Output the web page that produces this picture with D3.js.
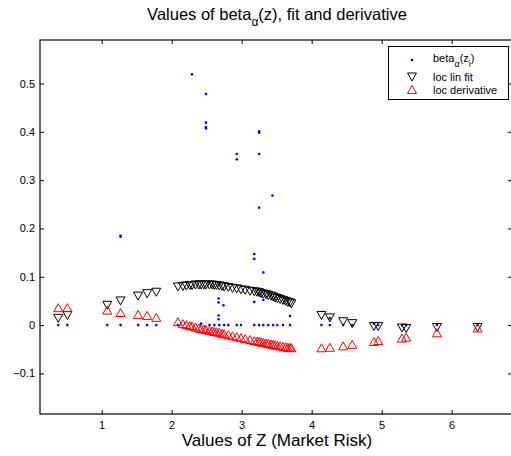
<!DOCTYPE html>
<html>
<head>
<meta charset="utf-8">
<script src="https://cdn.jsdelivr.net/npm/d3@7"></script>
<style>
	body { margin: 0; background: #fff; }
	text { font-family: "Liberation Sans", Arial, Helvetica, sans-serif; fill: #000; }
</style>
</head>
<body>
<div id="chart"></div>
<script>
// local fit / derivative are evaluated at each observed z
const fitZ = [
	0.38, 0.51, 1.08, 1.27, 1.52, 1.65, 1.78,
	2.09, 2.16, 2.21, 2.26, 2.29, 2.34, 2.39, 2.42, 2.46, 2.49,
	2.54, 2.58, 2.61, 2.64, 2.68, 2.72, 2.75, 2.81, 2.87, 2.93,
	2.99, 3.05, 3.12, 3.18, 3.22, 3.25, 3.28, 3.31, 3.35, 3.38,
	3.42, 3.45, 3.48, 3.51, 3.55, 3.59, 3.63, 3.66, 3.69, 3.71,
	4.14, 4.26, 4.45, 4.58, 4.89, 4.95, 5.29, 5.35, 5.79, 6.37
];
const fitValues = [
	0.015, 0.021, 0.042, 0.051, 0.061, 0.066, 0.069,
	0.080, 0.081, 0.082, 0.083, 0.083, 0.084, 0.084, 0.084, 0.084, 0.084,
	0.084, 0.084, 0.083, 0.083, 0.082, 0.081, 0.080, 0.079, 0.077, 0.076,
	0.074, 0.073, 0.071, 0.070, 0.069, 0.068, 0.066, 0.065, 0.064, 0.062,
	0.061, 0.059, 0.057, 0.056, 0.054, 0.052, 0.050, 0.048, 0.047, 0.045,
	0.021, 0.016, 0.008, 0.004, -0.002, -0.002, -0.005, -0.006, -0.004, -0.004
];
const derivValues = [
	0.035, 0.035, 0.030, 0.025, 0.021, 0.019, 0.015,
	0.006, 0.002, 0.000, -0.002, -0.003, -0.005, -0.007, -0.008, -0.009, -0.010,
	-0.012, -0.013, -0.014, -0.015, -0.016, -0.018, -0.019, -0.021, -0.023, -0.025,
	-0.027, -0.029, -0.031, -0.033, -0.034, -0.035, -0.036, -0.037, -0.038, -0.039,
	-0.040, -0.041, -0.042, -0.043, -0.044, -0.045, -0.046, -0.047, -0.047, -0.048,
	-0.048, -0.047, -0.044, -0.041, -0.035, -0.033, -0.028, -0.026, -0.017, -0.007
];

// raw beta_alpha(z_i) observations
const betaZ = [
	0.38, 0.51, 1.08, 1.27, 1.52, 1.65, 1.78, 2.09, 2.54, 2.61, 2.68,
	2.75, 2.81, 2.93, 2.99, 3.18, 3.25, 3.31, 3.38, 3.45, 3.51, 3.59,
	3.69, 4.14, 4.26, 4.45, 4.58, 4.95, 5.29, 5.35, 5.79, 6.37,
	1.27, 1.27, 2.29, 2.49, 2.49, 2.49, 2.49, 2.93, 2.93, 3.25, 3.25,
	3.25, 3.25, 3.44, 3.18, 3.18, 3.31, 2.67, 2.67, 2.67, 2.67, 2.74,
	3.18, 3.31, 3.69, 2.42, 4.26, 4.89
];
const betaValues = [
	0, 0, 0, 0, 0, 0, 0, 0, 0, 0, 0,
	0, 0, 0, 0, 0, 0, 0, 0, 0, 0, 0,
	0, 0, 0, 0, 0, 0, 0, 0, 0, 0,
	0.185, 0.183, 0.519, 0.478, 0.419, 0.410, 0.407, 0.354, 0.343, 0.401, 0.398,
	0.354, 0.243, 0.268, 0.147, 0.137, 0.109, 0.055, 0.047, 0.020, 0.012, 0.041,
	0.048, 0.052, 0.019, 0.003, 0.014, 0.003
];

const xTicks = [1, 2, 3, 4, 5, 6];
const yTicks = [-0.1, 0, 0.1, 0.2, 0.3, 0.4, 0.5];
const xDomain = [0.119, 6.862];
const yDomain = [-0.184, 0.59];

const WIDTH = 511;
const HEIGHT = 456;
const margin = {left: 40, top: 40, right: -1, bottom: 42};
const TICK_SIZE = 4;
const TICK_FONT = 11;
const BLUE = '#0000ff';
const RED = '#ff0000';

const triUp = 'M0,-4.5L4.5,3.5L-4.5,3.5Z';
const triDown = 'M0,4.5L4.5,-3.5L-4.5,-3.5Z';

const svg = d3.select('#chart').append('svg')
	.attr('width', WIDTH)
	.attr('height', HEIGHT);

const x = d3.scaleLinear()
	.domain(xDomain)
	.range([margin.left, WIDTH - margin.right]);
const y = d3.scaleLinear()
	.domain(yDomain)
	.range([HEIGHT - margin.bottom, margin.top]);

const fmtY = d => d === 0 ? '0' : d3.format('.1f')(d);

function drawAxis(axis, transform, withLabels) {
	const g = svg.append('g')
		.attr('transform', transform)
		.call(axis.tickSize(-TICK_SIZE).tickPadding(withLabels ? 7 : 0));
	g.select('.domain').remove();
	g.selectAll('line').attr('stroke', '#000');
	g.selectAll('text')
		.attr('fill', '#000')
		.style('font-size', `${TICK_FONT}px`)
		.style('font-family', '"Liberation Sans", Arial, sans-serif');
	if (!withLabels) g.selectAll('text').remove();
	return g;
}

// axes, MATLAB style: ticks pointing in, box all round
drawAxis(d3.axisBottom(x).tickValues(xTicks).tickFormat(d3.format('d')),
	`translate(0,${y.range()[0]})`, true);
drawAxis(d3.axisTop(x).tickValues(xTicks), `translate(0,${y.range()[1]})`, false);
const yAxisG = drawAxis(d3.axisLeft(y).tickValues(yTicks).tickFormat(fmtY),
	`translate(${x.range()[0]},0)`, true);
yAxisG.selectAll('.tick text').attr('x', -5);
drawAxis(d3.axisRight(y).tickValues(yTicks), `translate(${x.range()[1]},0)`, false);

svg.append('rect')
	.attr('x', x.range()[0])
	.attr('y', y.range()[1])
	.attr('width', x.range()[1] - x.range()[0])
	.attr('height', y.range()[0] - y.range()[1])
	.attr('fill', 'none')
	.attr('stroke', '#000')
	.attr('stroke-width', 1.2);

// beta points
svg.append('g')
	.selectAll('circle')
	.data(d3.zip(betaZ, betaValues))
	.join('circle')
	.attr('cx', d => x(d[0]))
	.attr('cy', d => y(d[1]))
	.attr('r', 1.3)
	.attr('fill', BLUE);

// loc lin fit
svg.append('g')
	.selectAll('path')
	.data(d3.zip(fitZ, fitValues))
	.join('path')
	.attr('d', triDown)
	.attr('transform', d => `translate(${x(d[0])},${y(d[1])})`)
	.attr('fill', 'none')
	.attr('stroke', '#000')
	.attr('stroke-width', 1);

// loc derivative
svg.append('g')
	.selectAll('path')
	.data(d3.zip(fitZ, derivValues))
	.join('path')
	.attr('d', triUp)
	.attr('transform', d => `translate(${x(d[0])},${y(d[1])})`)
	.attr('fill', 'none')
	.attr('stroke', RED)
	.attr('stroke-width', 1);

// title
const title = svg.append('text')
	.attr('x', 277)
	.attr('y', 20)
	.attr('text-anchor', 'middle')
	.style('font-size', '16.5px');
title.append('tspan').text('Values of beta');
title.append('tspan').attr('dy', 6).style('font-size', '12px').text('α');
title.append('tspan').attr('dy', -6).text('(z), fit and derivative');

// x label
svg.append('text')
	.attr('x', 277)
	.attr('y', 446)
	.attr('text-anchor', 'middle')
	.style('font-size', '17px')
	.text('Values of Z (Market Risk)');

// legend
const legend = svg.append('g');
legend.append('rect')
	.attr('x', 388.5)
	.attr('y', 46.5)
	.attr('width', 120)
	.attr('height', 53)
	.attr('fill', '#fff')
	.attr('stroke', '#000')
	.attr('stroke-width', 1);

legend.append('circle')
	.attr('cx', 412).attr('cy', 60).attr('r', 1.3).attr('fill', BLUE);
const betaLabel = legend.append('text')
	.attr('x', 433).attr('y', 62)
	.style('font-size', '11px');
betaLabel.append('tspan').text('beta');
betaLabel.append('tspan').attr('dy', 5).style('font-size', '9px').text('α');
betaLabel.append('tspan').attr('dy', -5).text('(z');
betaLabel.append('tspan').attr('dy', 5).style('font-size', '9px').text('i');
betaLabel.append('tspan').attr('dy', -5).text(')');

legend.append('path')
	.attr('d', triDown)
	.attr('transform', 'translate(412,76.5)')
	.attr('fill', 'none').attr('stroke', '#000');
legend.append('text')
	.attr('x', 433).attr('y', 80.5)
	.style('font-size', '11px')
	.text('loc lin fit');

legend.append('path')
	.attr('d', triUp)
	.attr('transform', 'translate(412,90)')
	.attr('fill', 'none').attr('stroke', RED);
legend.append('text')
	.attr('x', 433).attr('y', 94)
	.style('font-size', '11px')
	.text('loc derivative');
</script>
</body>
</html>
